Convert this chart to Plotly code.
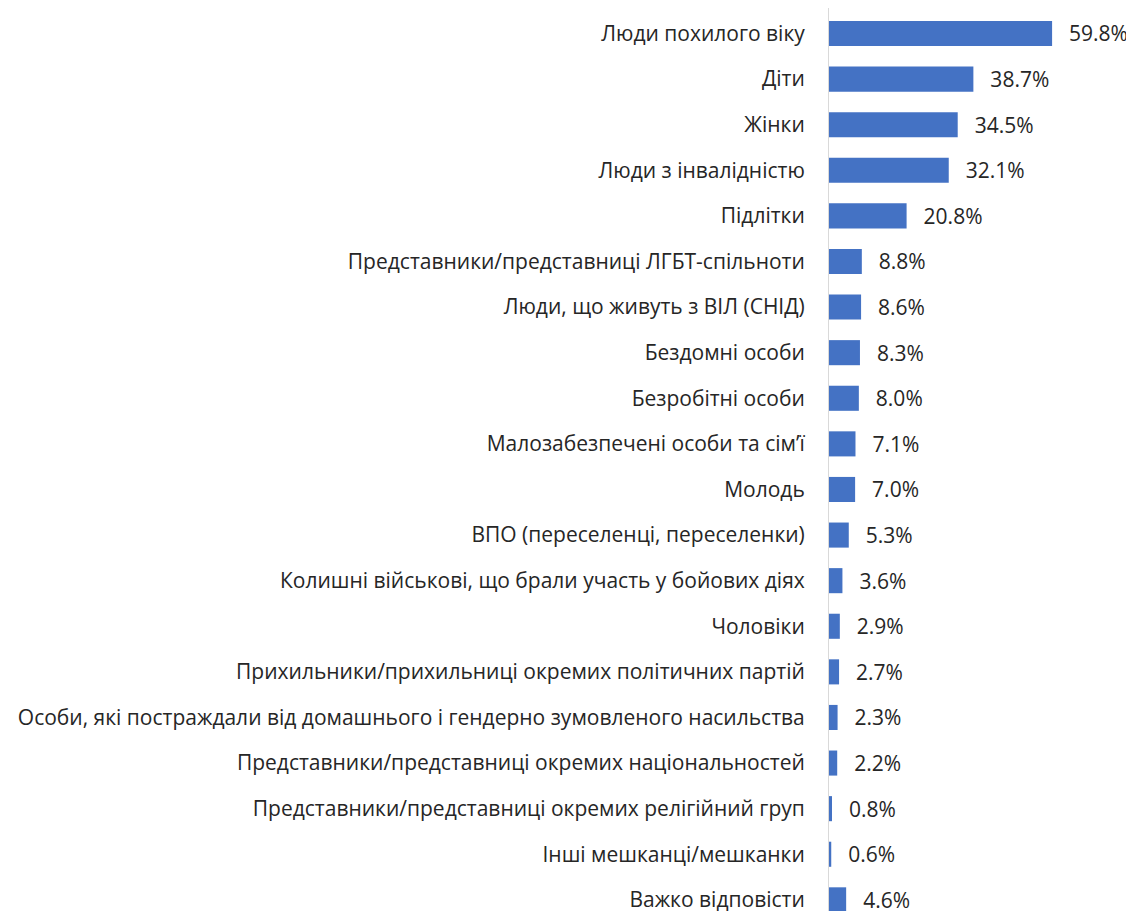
import plotly.graph_objects as go

categories = [
    "Люди похилого віку",
    "Діти",
    "Жінки",
    "Люди з інвалідністю",
    "Підлітки",
    "Представники/представниці ЛГБТ-спільноти",
    "Люди, що живуть з ВІЛ (СНІД)",
    "Бездомні особи",
    "Безробітні особи",
    "Малозабезпечені особи та сім’ї",
    "Молодь",
    "ВПО (переселенці, переселенки)",
    "Колишні військові, що брали участь у бойових діях",
    "Чоловіки",
    "Прихильники/прихильниці окремих політичних партій",
    "Особи, які постраждали від домашнього і гендерно зумовленого насильства",
    "Представники/представниці окремих національностей",
    "Представники/представниці окремих релігійний груп",
    "Інші мешканці/мешканки",
    "Важко відповісти",
]
values = [59.8, 38.7, 34.5, 32.1, 20.8, 8.8, 8.6, 8.3, 8.0, 7.1, 7.0, 5.3, 3.6, 2.9, 2.7, 2.3, 2.2, 0.8, 0.6, 4.6]
value_labels = ["\u2002\u2009" + f"{v:.1f}%" for v in values]

FONT = "Open Sans, Noto Sans, sans-serif"

fig = go.Figure(
    go.Bar(
        x=values,
        y=categories,
        orientation="h",
        marker=dict(color="#4472C4", line=dict(width=0)),
        text=value_labels,
        textposition="outside",
        constraintext="none",
        textfont=dict(family=FONT, size=21, color="#262626"),
        cliponaxis=True,
        hoverinfo="skip",
    )
)

fig.update_layout(
    width=1134,
    height=911,
    margin=dict(l=821, r=0, t=0, b=0),
    paper_bgcolor="white",
    plot_bgcolor="white",
    bargap=0.45,
    showlegend=False,
    font=dict(family=FONT, size=21, color="#262626"),
)
fig.update_xaxes(
    range=[0, 83.9],
    showgrid=False,
    zeroline=False,
    showticklabels=False,
    showline=False,
)
fig.update_yaxes(
    type="category",
    categoryorder="array",
    categoryarray=categories,
    range=[19.42, -0.559],
    showgrid=False,
    zeroline=False,
    showline=True,
    linecolor="#D9D9D9",
    linewidth=1,
    ticks="",
    ticklabelstandoff=19,
    tickfont=dict(family=FONT, size=21, color="#262626"),
    automargin=False,
)

fig.write_html("out.html")
